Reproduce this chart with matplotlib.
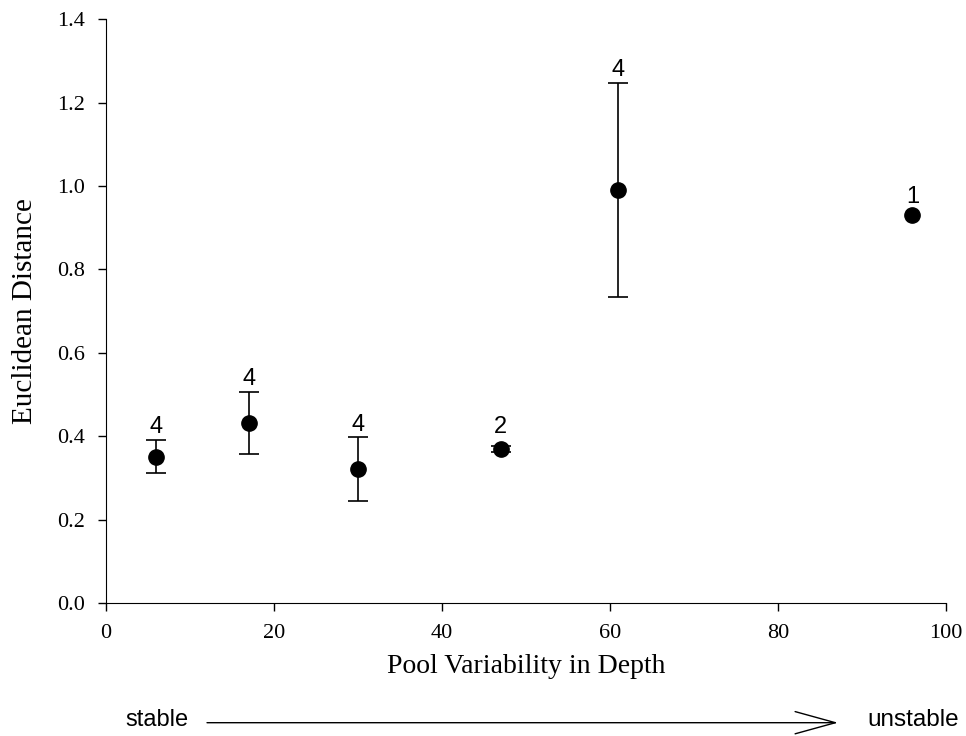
import numpy as np
import matplotlib.pyplot as plt
from matplotlib.patches import FancyArrowPatch
from matplotlib.ticker import FormatStrFormatter

plt.rcParams["font.family"] = "Liberation Serif"

# data
depth_var = [6, 17, 30, 47, 61, 96]
euc_dist = [0.351, 0.432, 0.321, 0.369, 0.99, 0.93]
euc_err = [0.04, 0.075, 0.076, 0.008, 0.257, 0.0]
n_labels = ["4", "4", "4", "2", "4", "1"]

fig = plt.figure(figsize=(9.66, 7.36), dpi=100)
ax = fig.add_axes([0.1097, 0.1807, 0.8696, 0.7932])

x = np.array(depth_var)
y = np.array(euc_dist)
e = np.array(euc_err)
has_err = e > 0
ax.errorbar(x[has_err], y[has_err], yerr=e[has_err], fmt='none', ecolor='black',
            capsize=7, elinewidth=1.2, capthick=1.2)
ax.plot(x, y, 'o', color='black', markersize=11)

# n above each point
for xi, yi, ei, lab in zip(depth_var, euc_dist, euc_err, n_labels):
    off = 5 if ei > 0.02 else 9
    ax.annotate(lab, (xi, yi + ei), xytext=(0, off), textcoords='offset points',
                ha='center', va='baseline', fontsize=17, family='Liberation Sans')

ax.set_xlim(0, 100)
ax.set_ylim(0, 1.4)
ax.set_xticks(np.arange(0, 101, 20))
ax.set_yticks(np.arange(0, 1.41, 0.2))
ax.yaxis.set_major_formatter(FormatStrFormatter('%.1f'))
ax.spines['top'].set_visible(False)
ax.spines['right'].set_visible(False)
ax.tick_params(direction='out', length=6, width=1, labelsize=16, pad=9)
ax.set_xlabel("Pool Variability in Depth", fontsize=20, labelpad=8)
ax.set_ylabel("Euclidean Distance", fontsize=21, labelpad=14)

# stable -> unstable arrow below the axis
fig.text(125 / 966, 1 - 720 / 736, "stable", ha='left', va='center',
         fontsize=17, family='Liberation Sans')
fig.text(867 / 966, 1 - 720 / 736, "unstable", ha='left', va='center',
         fontsize=17.5, family='Liberation Sans')
arrow = FancyArrowPatch((207 / 966, 1 - 722.7 / 736), (838 / 966, 1 - 722.7 / 736),
                        transform=fig.transFigure, arrowstyle='->,head_length=1.45,head_width=0.4',
                        mutation_scale=20, shrinkA=0, shrinkB=0, color='black', lw=1)
fig.patches.append(arrow)

plt.savefig('out.png', dpi=100)
